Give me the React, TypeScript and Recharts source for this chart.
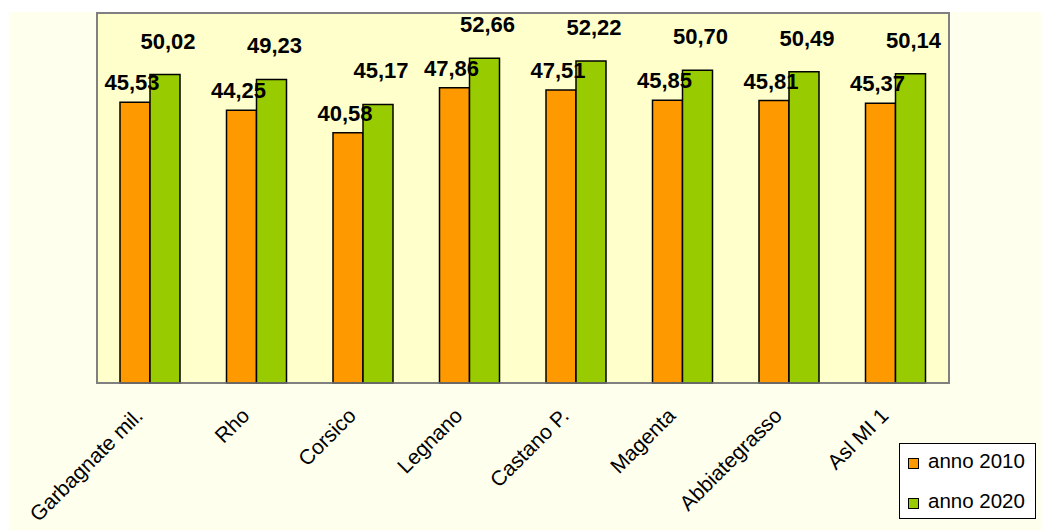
import { BarChart, Bar, XAxis, YAxis, CartesianGrid, ReferenceArea, LabelList, Legend } from "recharts";

const FONT = "'Liberation Sans', Arial, sans-serif";

const categories = [
  "Garbagnate mil.", "Rho", "Corsico", "Legnano",
  "Castano P.", "Magenta", "Abbiategrasso", "Asl MI 1",
];
const anno2010 = [45.53, 44.25, 40.58, 47.86, 47.51, 45.85, 45.81, 45.37];
const anno2020 = [50.02, 49.23, 45.17, 52.66, 52.22, 50.7, 50.49, 50.14];
// tick marks sit on the category boundaries, not on the centres
const boundaryTicks = [0, 1, 2, 3, 4, 5, 6, 7, 8];

const data = categories.map((name, i) => ({
  name,
  a2010: anno2010[i],
  a2020: anno2020[i],
}));

const fmt = (v: number) => v.toFixed(2).replace(".", ",");

function makeLabel(dx: number, lift: number) {
  return (props: any) => {
    const vb = props.viewBox ?? {};
    const x = props.x ?? vb.x;
    const y = props.y ?? vb.y;
    const w = props.width ?? vb.width;
    return (
      <text
        x={x + w / 2 + dx}
        y={y - lift}
        textAnchor="middle"
        fontFamily={FONT}
        fontWeight="bold"
        fontSize={22}
        fill="#000"
      >
        {fmt(Number(props.value))}
      </text>
    );
  };
}

function CategoryTick({ x, y, payload }: any) {
  return (
    <g transform={`translate(${x - 6},${y + 26}) rotate(-45)`}>
      <text textAnchor="end" fontFamily={FONT} fontSize={21} fill="#000">
        {payload.value}
      </text>
    </g>
  );
}

function LegendBox({ payload }: any) {
  return (
    <svg width={137} height={76} style={{ display: "block" }}>
      <rect x={0.5} y={0.5} width={136} height={75} fill="#fff" stroke="#000" />
      {(payload ?? []).map((entry: any, i: number) => (
        <g key={entry.value}>
          <rect x={9.5} y={15.5 + i * 40} width={10} height={10} fill={entry.color} stroke="#000" />
          <text x={29} y={25 + i * 40} fontFamily={FONT} fontSize={20.5} fill="#000">
            {entry.value}
          </text>
        </g>
      ))}
    </svg>
  );
}

export default function App() {
  return (
    <div style={{ position: "absolute", left: 9, top: 12, width: 1032, height: 518, background: "#FFFFEE" }}>
      <BarChart
        width={1032}
        height={518}
        data={data}
        margin={{ top: 1, right: 92, bottom: 47, left: 88 }}
        barGap={0}
        barSize={30}
      >
        <CartesianGrid horizontal={false} vertical={false} fill="#FFFFCC" />
        <XAxis
          dataKey="name"
          height={100}
          interval={0}
          tick={<CategoryTick />}
          tickLine={false}
          axisLine={{ stroke: "#808080", strokeWidth: 1.5 }}
        />
        <XAxis
          xAxisId="b"
          type="number"
          domain={[0, 8]}
          ticks={boundaryTicks}
          tick={false}
          height={0}
          axisLine={false}
          tickLine={{ stroke: "#808080", strokeWidth: 1.5 }}
          tickSize={6}
        />
        <YAxis hide domain={[0, 60]} />
        <ReferenceArea y1={0} y2={60} fill="none" stroke="#808080" strokeWidth={2} />
        <Bar dataKey="a2010" name="anno 2010" fill="#FF9900" stroke="#000" strokeWidth={1.5} isAnimationActive={false}>
          <LabelList dataKey="a2010" content={makeLabel(-3, 12)} />
        </Bar>
        <Bar dataKey="a2020" name="anno 2020" fill="#99CC00" stroke="#000" strokeWidth={1.5} isAnimationActive={false}>
          <LabelList dataKey="a2020" content={makeLabel(3, 26)} />
        </Bar>
        <Legend
          layout="vertical"
          align="center"
          verticalAlign="middle"
          content={<LegendBox />}
          wrapperStyle={{ left: 890, top: 431, width: 137, height: 76 }}
        />
      </BarChart>
    </div>
  );
}
